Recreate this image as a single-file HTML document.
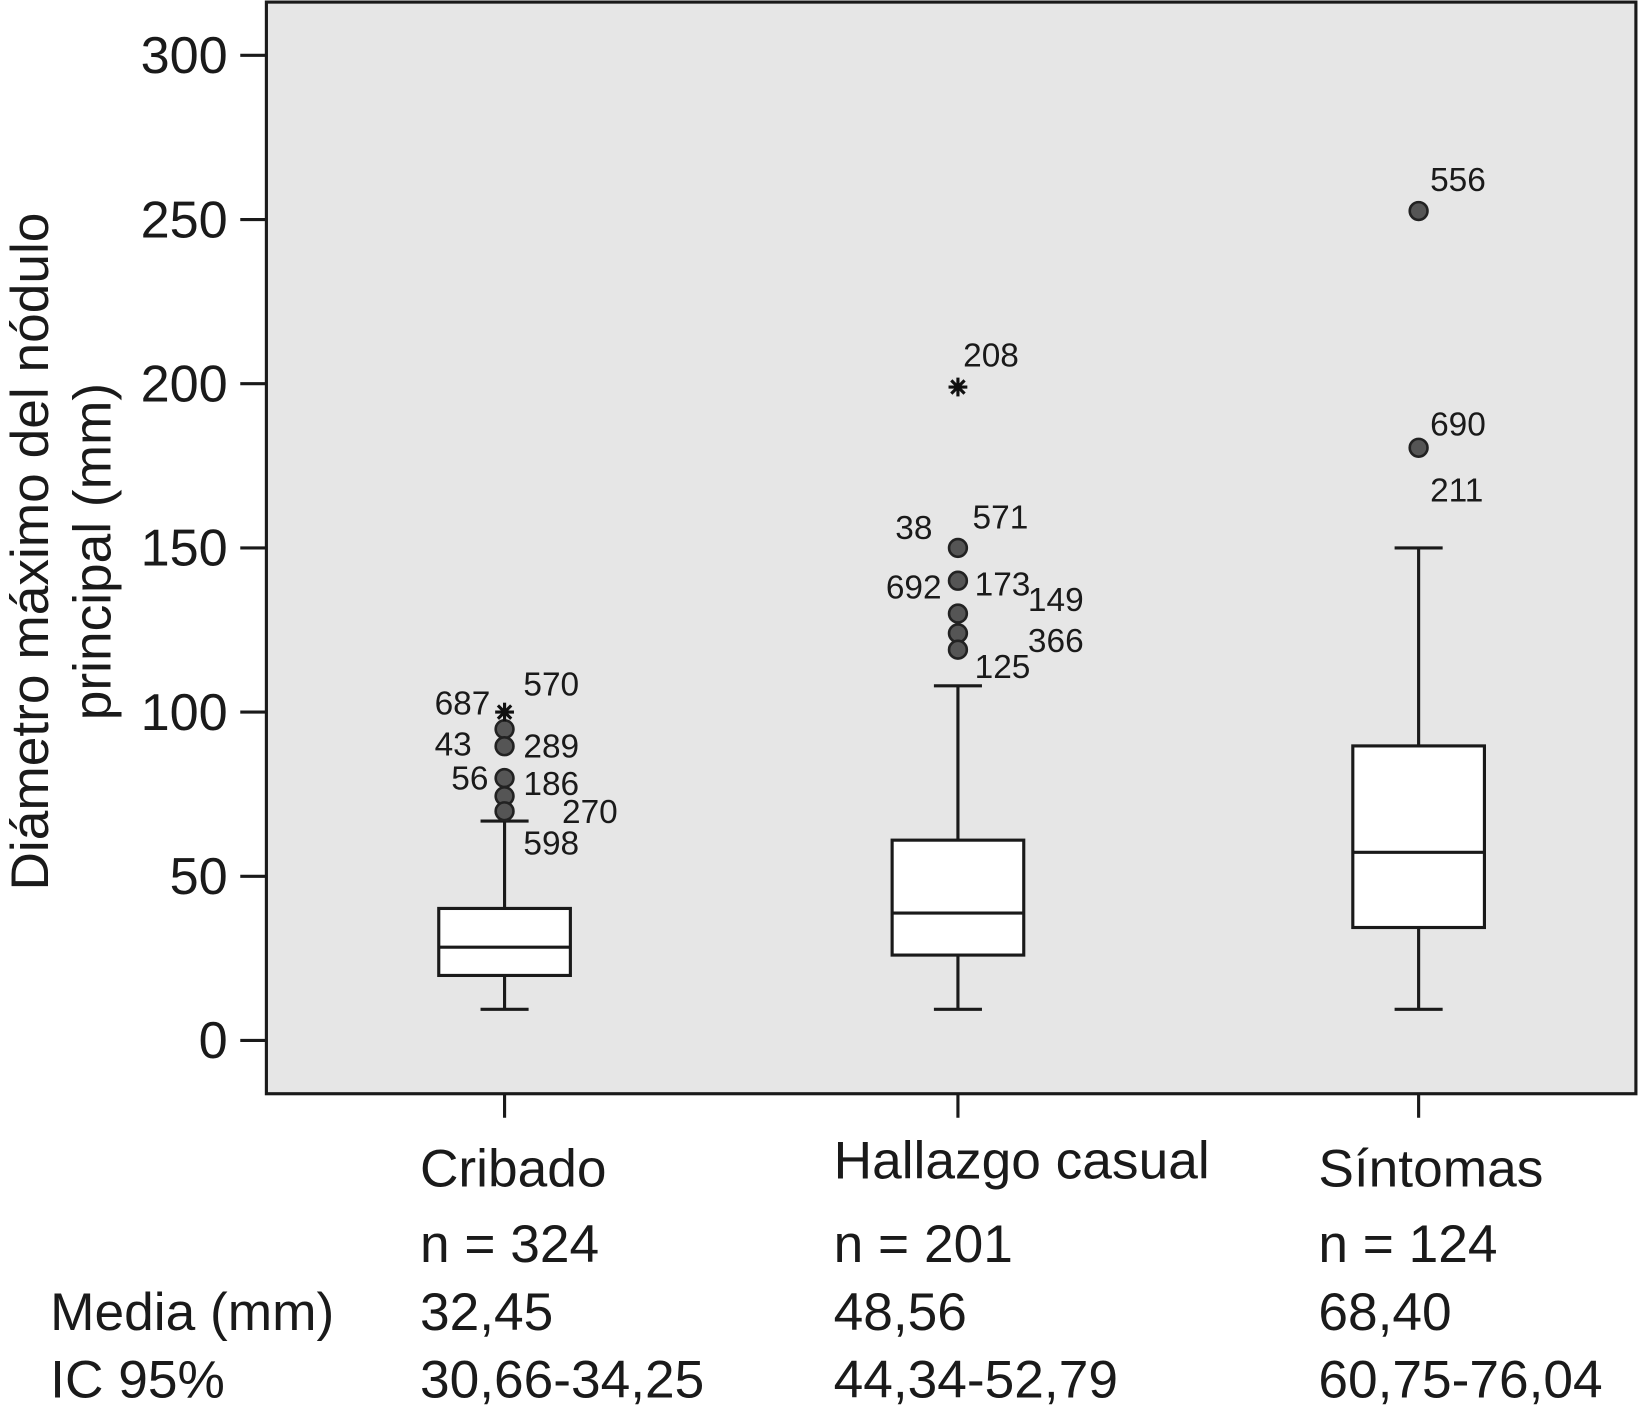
<!DOCTYPE html>
<html><head><meta charset="utf-8"><style>
html,body{margin:0;padding:0;background:#fff;}
svg{display:block;font-family:"Liberation Sans",Arial,sans-serif;}
</style></head><body>
<svg id="chart" width="1638" height="1416" viewBox="0 0 1568 1355.5" xmlns="http://www.w3.org/2000/svg">
<rect x="255" y="2" width="1311" height="1045" fill="#e6e6e6" stroke="#1a1a1a" stroke-width="3"/>
<g id="axis"></g>
<g id="boxes"></g>
<g id="labels" font-size="32" fill="#1a1a1a"></g>
<g font-size="51" fill="#1a1a1a" text-anchor="middle">
<text transform="translate(46,528) rotate(-90)">Diámetro máximo del nódulo</text>
<text transform="translate(106,528) rotate(-90)">principal (mm)</text>
</g>
<g font-size="51" fill="#1a1a1a">
<text x="402" y="1136">Cribado</text><text x="798" y="1128">Hallazgo casual</text><text x="1262" y="1136">Síntomas</text>
<text x="402" y="1208">n = 324</text><text x="798" y="1208">n = 201</text><text x="1262" y="1208">n = 124</text>
<text x="48" y="1273">Media (mm)</text><text x="402" y="1273">32,45</text><text x="798" y="1273">48,56</text><text x="1262" y="1273">68,40</text>
<text x="48" y="1338">IC 95%</text><text x="402" y="1338">30,66-34,25</text><text x="798" y="1338">44,34-52,79</text><text x="1262" y="1338">60,75-76,04</text>
</g>
</svg>
<script>
const categories=["Cribado","Hallazgo casual","Síntomas"];
const q1=[19.8,26,34.4];
const median=[28.4,38.8,57.3];
const q3=[40.2,61,89.7];
const whiskerLow=[9.5,9.5,9.5];
const whiskerHigh=[66.8,108,150];
const outlierValues=[[94.8,89.6,79.9,74.4,69.8],[150,140,130,124,119],[252.6,180.5]];
const extremeValues=[[100],[199],[]];
const yTicks=[0,50,100,150,200,250,300];
const outlierLabels=[
 [["570",501,665],["687",416,683],["43",416,722],["289",501,724],["56",432,755],["186",501,760],["270",538,787],["598",501,817]],
 [["208",922,350],["38",857,515],["571",931,505],["692",848,572],["173",933,569],["149",984,584],["366",984,623],["125",933,648]],
 [["556",1369,182],["690",1369,416],["211",1369,479]]
];
const NS="http://www.w3.org/2000/svg";
const y=v=>996-v*(943/300);
const x=i=>[483,917,1358][i];
function mk(t,a,p){const e=document.createElementNS(NS,t);for(const k in a)e.setAttribute(k,a[k]);p.appendChild(e);return e;}
const ax=document.getElementById('axis'),bx=document.getElementById('boxes'),lb=document.getElementById('labels');
yTicks.forEach(t=>{
 const l=mk('line',{x1:230,x2:255,y1:y(t),y2:y(t),stroke:'#1a1a1a','stroke-width':3},ax);
 
 
 const tx=mk('text',{x:218,y:y(t)+17,'text-anchor':'end','font-size':50,fill:'#1a1a1a'},ax);
 tx.textContent=t;
 
 
});
categories.forEach((c,i)=>{
 const cx=x(i);
 const t=mk('line',{x1:cx,x2:cx,y1:1047,y2:1070,stroke:'#1a1a1a','stroke-width':3},ax);
 
 
 const g=mk('g',{stroke:'#1a1a1a','stroke-width':3},bx);
 
 
 mk('line',{x1:cx,x2:cx,y1:y(whiskerHigh[i]),y2:y(q3[i])},g);
 mk('line',{x1:cx,x2:cx,y1:y(q1[i]),y2:y(whiskerLow[i])},g);
 mk('line',{x1:cx-23,x2:cx+23,y1:y(whiskerHigh[i]),y2:y(whiskerHigh[i])},g);
 mk('line',{x1:cx-23,x2:cx+23,y1:y(whiskerLow[i]),y2:y(whiskerLow[i])},g);
 mk('rect',{x:cx-63,width:126,y:y(q3[i]),height:y(q1[i])-y(q3[i]),fill:'#fff'},g);
 mk('line',{x1:cx-63,x2:cx+63,y1:y(median[i]),y2:y(median[i])},g);
 outlierValues[i].forEach(v=>{
  const o=mk('circle',{cx:cx,cy:y(v),r:8.5,fill:'#555',stroke:'#222','stroke-width':2.5},bx);
  
  
 });
 extremeValues[i].forEach(v=>{
  const e=mk('g',{stroke:'#111','stroke-width':3},bx);
  
  
  const yy=y(v),r=9;
  for(let k=0;k<4;k++){const a=k*Math.PI/4;mk('line',{x1:cx-r*Math.cos(a),y1:yy-r*Math.sin(a),x2:cx+r*Math.cos(a),y2:yy+r*Math.sin(a)},e);}
 });
 outlierLabels[i].forEach(([s,lx,ly])=>{
  const t2=mk('text',{x:lx,y:ly+1},lb);
  t2.textContent=s;
  
  
 });
});
</script>
</body></html>
